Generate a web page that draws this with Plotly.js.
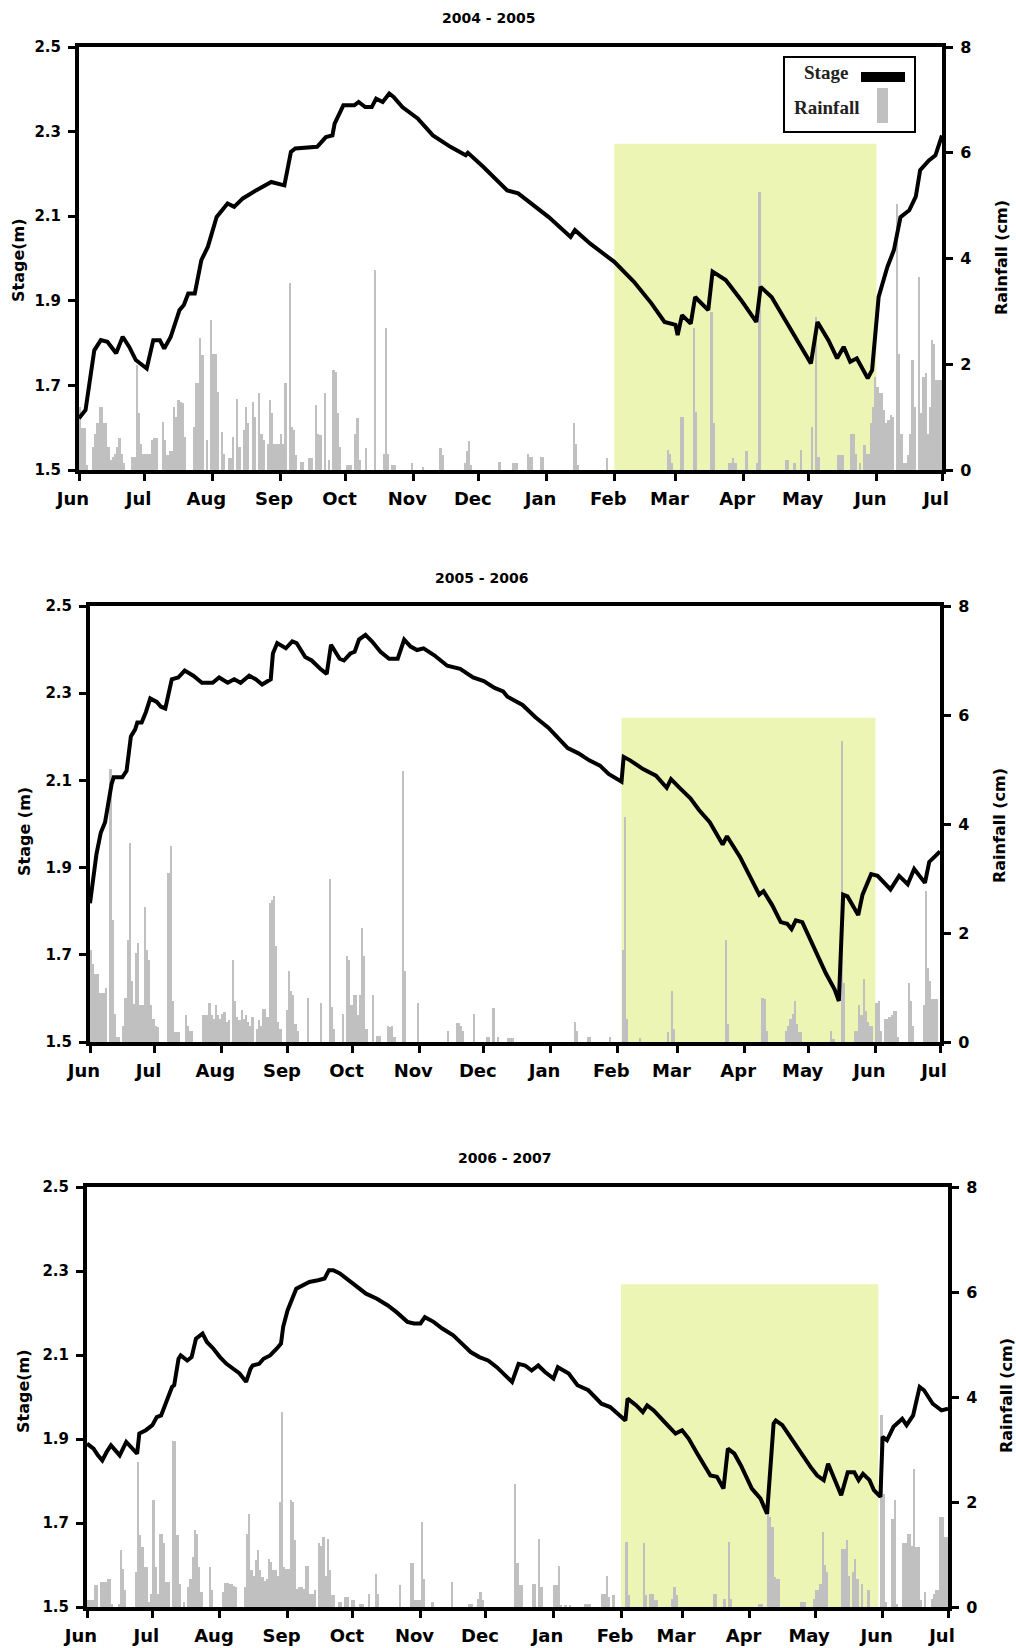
<!DOCTYPE html>
<html><head><meta charset="utf-8">
<script src="https://cdn.plot.ly/plotly-3.0.1.min.js"></script>
<style>html,body{margin:0;padding:0;background:#fff;}#chart{width:1016px;height:1648px;}</style>
</head><body><div id="chart"></div>
<script>
// ---------- DATA ----------
const periodTitles = ['2004 - 2005', '2005 - 2006', '2006 - 2007'];
const startDates = ['2004-06-01', '2005-06-01', '2006-06-01'];
const endDates = ['2005-07-01', '2006-07-01', '2007-07-01'];
const stageTitles = ['Stage(m)', 'Stage (m)', 'Stage(m)'];
const rainTitle = 'Rainfall (cm)';
const stageTicks = [1.5, 1.7, 1.9, 2.1, 2.3, 2.5];
const rainTicks = [0, 2, 4, 6, 8];
// shaded period (start, end, top in cm)
const shadeStart = ['2005-02-01', '2006-02-03', '2007-02-01'];
const shadeEnd = ['2005-06-01', '2006-06-01', '2007-05-30'];
const shadeTopCm = [6.17, 5.95, 6.15];

// Stage (m): day offset from start date, value
const stage1Day = [0,3,7,10,13,17,20,23,26,31,34,37,39,42,46,48,50,53,56,59,63,68,71,75,81,88,94,97,99,109,113,116,117,121,126,128,131,134,136,139,142,144,148,155,162,170,177,178,185,196,201,207,215,225,227,234,245,254,262,268,273,274,276,280,282,288,290,296,303,310,312,317,326,335,338,343,347,350,353,356,361,363,366,370,373,376,380,383,385,389,392,395];
const stage1M = [1.622,1.642,1.783,1.807,1.803,1.776,1.815,1.791,1.760,1.740,1.807,1.807,1.787,1.815,1.878,1.890,1.917,1.917,1.996,2.028,2.098,2.130,2.122,2.142,2.161,2.181,2.173,2.252,2.260,2.264,2.287,2.291,2.319,2.362,2.362,2.370,2.358,2.358,2.378,2.370,2.390,2.382,2.358,2.331,2.291,2.264,2.244,2.250,2.217,2.161,2.154,2.130,2.098,2.051,2.067,2.035,1.992,1.945,1.894,1.850,1.843,1.819,1.866,1.846,1.909,1.878,1.969,1.949,1.902,1.850,1.933,1.909,1.831,1.752,1.850,1.807,1.764,1.791,1.756,1.764,1.717,1.736,1.909,1.980,2.020,2.098,2.114,2.146,2.209,2.232,2.244,2.291];

const stage2Day = [0,2,3,5,7,10,11,15,17,19,21,22,24,26,28,31,33,35,38,41,44,48,52,57,60,64,67,70,74,77,80,84,85,87,91,94,96,100,103,107,110,112,114,116,118,121,123,125,128,131,135,139,143,146,149,152,155,160,166,172,178,183,188,192,194,201,207,213,222,227,232,237,241,247,248,251,257,263,268,270,274,279,283,288,294,296,302,306,311,313,317,321,324,326,328,331,336,342,346,348,350,352,357,359,363,366,372,376,380,383,388,390,395];
const stage2M = [1.818,1.899,1.931,1.980,2.004,2.091,2.107,2.107,2.122,2.201,2.217,2.233,2.233,2.257,2.288,2.280,2.269,2.265,2.332,2.336,2.352,2.340,2.324,2.324,2.336,2.324,2.332,2.324,2.340,2.332,2.320,2.332,2.391,2.415,2.403,2.419,2.415,2.383,2.375,2.356,2.344,2.411,2.395,2.379,2.375,2.391,2.395,2.423,2.434,2.419,2.395,2.379,2.379,2.423,2.407,2.399,2.403,2.387,2.363,2.356,2.336,2.328,2.312,2.304,2.292,2.273,2.245,2.221,2.174,2.162,2.146,2.134,2.115,2.097,2.154,2.146,2.126,2.111,2.083,2.103,2.083,2.059,2.032,2.004,1.953,1.972,1.925,1.885,1.838,1.846,1.814,1.775,1.771,1.759,1.779,1.775,1.720,1.657,1.621,1.594,1.838,1.834,1.791,1.838,1.885,1.881,1.850,1.881,1.862,1.897,1.865,1.913,1.937];

const stage3Day = [0,3,5,7,9,11,13,15,18,20,23,24,27,30,32,34,37,39,40,42,43,46,48,50,53,55,58,61,64,67,70,73,75,76,79,81,84,87,89,90,92,96,99,102,106,109,111,113,116,120,124,128,133,138,142,147,150,153,155,159,163,168,172,176,180,184,188,193,195,198,201,204,207,210,214,216,221,225,230,236,240,247,248,252,255,257,260,265,270,273,276,280,283,286,289,292,294,297,300,305,309,312,315,316,319,323,328,332,335,338,340,343,346,349,352,354,356,359,361,364,365,367,370,374,376,379,382,384,388,392,395];
const stage3M = [1.889,1.877,1.861,1.849,1.869,1.885,1.873,1.861,1.893,1.881,1.865,1.913,1.921,1.933,1.952,1.956,2.000,2.024,2.028,2.091,2.099,2.087,2.095,2.139,2.151,2.131,2.115,2.095,2.079,2.067,2.056,2.036,2.067,2.075,2.079,2.091,2.099,2.115,2.127,2.167,2.206,2.258,2.266,2.274,2.278,2.282,2.302,2.302,2.294,2.278,2.262,2.246,2.234,2.218,2.202,2.179,2.175,2.175,2.190,2.179,2.163,2.147,2.127,2.107,2.095,2.087,2.071,2.044,2.036,2.079,2.075,2.063,2.075,2.060,2.044,2.071,2.056,2.028,2.016,1.984,1.976,1.944,1.996,1.980,1.964,1.980,1.968,1.940,1.913,1.921,1.901,1.865,1.841,1.813,1.810,1.782,1.877,1.865,1.837,1.782,1.758,1.722,1.937,1.944,1.933,1.901,1.861,1.833,1.813,1.802,1.841,1.806,1.766,1.821,1.821,1.802,1.817,1.802,1.778,1.762,1.905,1.897,1.929,1.948,1.933,1.956,2.024,2.016,1.984,1.968,1.972];

// Daily rainfall (cm): day offset from start date, value (days not listed = 0)
const rain1Day = [0,1,2,3,6,7,8,9,10,11,12,13,14,15,16,17,18,19,20,24,25,26,27,28,29,30,31,32,33,34,35,38,39,40,41,42,43,44,45,46,47,48,52,53,54,55,56,58,60,61,62,63,65,66,68,69,70,72,73,75,76,77,79,80,82,83,84,86,87,88,89,90,91,92,93,94,96,97,98,99,101,102,105,106,108,109,110,112,114,116,117,118,119,122,123,124,126,127,128,131,135,139,140,141,143,144,152,157,165,166,176,177,178,179,192,198,199,200,205,206,207,211,212,226,227,228,241,269,270,271,275,276,281,282,289,290,297,298,299,300,305,310,311,323,324,327,330,335,337,338,347,348,349,353,354,355,357,359,360,361,362,363,364,365,366,367,368,369,370,371,372,374,375,376,377,378,379,380,381,382,384,385,386,387,388,389,390,391,392,393,394];
const rain1Cm = [1.2,0.8,0.8,0.1,0.44,0.69,0.88,1.2,1.2,0.88,0.88,0.44,0.19,0.25,0.31,0.44,0.6,0.31,0.13,0.25,0.25,1.98,1.07,0.5,0.31,0.31,0.31,0.3,0.57,0.6,0.6,0.91,0.57,0.28,0.35,0.35,1.2,1.0,1.32,1.29,1.26,0.63,0.82,1.64,1.64,2.49,2.17,0.57,2.83,2.2,2.2,1.48,0.72,0.3,0.22,0.22,0.63,1.35,0.44,0.76,1.2,0.88,1.29,1.0,1.45,0.69,0.57,0.5,1.32,1.07,0.5,0.5,0.5,0.69,0.5,1.64,3.53,0.82,0.76,0.28,0.16,0.16,0.22,0.22,1.23,0.69,0.66,1.45,0.19,1.89,1.86,1.07,0.44,0.1,0.1,0.1,0.69,0.98,0.19,0.41,3.78,0.31,2.68,0.31,0.1,0.1,0.13,0.06,0.41,0.28,0.13,0.35,0.54,0.1,0.16,0.13,0.13,0.13,0.31,0.25,0.25,0.25,0.25,0.88,0.5,0.1,0.22,0.38,0.3,0.13,1.0,1.0,2.68,1.1,2.99,0.88,0.13,0.13,0.22,0.13,0.35,0.13,5.26,0.19,0.19,0.13,0.38,0.82,2.9,0.25,0.28,0.28,0.28,0.69,0.69,0.31,0.13,0.47,0.31,0.31,0.88,1.2,1.76,1.57,1.45,1.45,1.13,0.88,0.95,1.04,1.0,5.04,2.2,0.69,0.13,0.13,0.28,0.69,2.08,1.2,3.65,1.07,1.76,1.83,0.69,1.2,2.46,2.39,1.7,1.7,1.7];

const rain2Day = [0,1,2,3,4,5,6,7,9,10,11,12,13,15,16,17,18,19,20,21,22,23,24,25,26,27,28,29,30,31,36,37,38,39,40,41,44,45,46,47,52,53,54,55,56,57,58,59,60,61,62,63,64,66,67,68,69,70,71,72,73,74,75,77,78,79,80,81,82,83,84,85,86,87,88,91,92,93,94,95,96,101,107,111,112,113,117,119,120,121,122,123,124,125,126,127,128,131,133,134,138,139,140,141,145,146,152,166,170,171,172,173,178,184,185,187,189,194,195,196,225,226,231,232,241,247,248,249,255,268,270,271,295,296,312,313,314,323,324,325,326,327,328,329,330,344,345,349,350,355,356,357,358,359,360,361,362,363,365,366,367,369,370,371,372,373,374,375,380,381,382,387,388,389,390,391,392,393];
const rain2Cm = [1.69,1.44,1.25,1.25,0.9,0.9,0.9,1.0,5.01,2.23,0.52,0.1,0.1,0.3,0.8,1.88,3.65,1.12,0.7,1.63,1.82,0.68,0.68,2.48,1.69,1.5,0.68,0.43,0.3,0.27,3.11,3.59,0.75,0.18,0.18,0.18,0.49,0.3,0.2,0.2,0.5,0.5,0.5,0.71,0.5,0.43,0.68,0.5,0.43,0.52,0.55,0.37,0.4,1.5,0.75,0.46,0.4,0.59,0.43,0.49,0.37,0.3,0.46,0.24,0.4,0.3,0.6,0.6,0.46,2.55,2.6,2.67,1.76,0.37,0.24,0.59,1.31,0.94,0.87,0.33,0.2,0.81,0.71,2.99,0.65,0.24,0.52,1.57,1.5,0.68,0.87,0.87,0.5,0.87,2.1,1.57,0.24,0.87,0.11,0.11,0.3,0.27,0.3,0.1,4.98,1.31,0.71,0.2,0.35,0.35,0.3,0.2,0.52,0.1,0.1,0.62,0.1,0.08,0.08,0.08,0.37,0.2,0.1,0.1,0.1,1.69,4.13,0.43,0.08,0.18,0.94,0.24,1.88,0.33,0.81,0.78,0.2,0.2,0.3,0.43,0.52,0.75,0.33,0.18,0.18,0.2,0.05,5.52,1.09,0.2,0.2,0.68,0.5,1.16,0.56,0.37,0.3,0.3,0.71,0.75,0.2,0.43,0.43,0.46,0.5,0.56,0.56,0.1,1.09,0.75,0.3,0.68,2.77,1.35,1.12,0.78,0.78,0.78];

const rain3Day = [0,1,2,3,4,6,7,8,9,10,11,14,15,16,17,22,23,24,25,26,27,28,29,30,31,32,33,34,35,36,37,39,40,41,42,44,46,47,48,49,50,51,52,56,57,62,63,64,65,66,67,68,72,73,74,75,76,77,78,79,80,81,82,83,84,85,86,87,88,89,90,91,92,93,94,95,96,97,98,99,100,101,102,103,104,106,107,108,109,110,111,112,113,115,116,118,119,121,122,125,126,129,132,133,143,148,149,150,151,152,153,154,158,167,175,176,179,180,181,196,197,198,199,204,205,207,208,214,215,216,217,219,221,228,229,230,236,237,238,239,241,247,248,255,256,258,259,260,261,268,269,270,287,288,292,294,295,308,309,312,313,314,315,316,317,327,328,329,333,334,335,336,337,338,339,346,347,348,349,351,352,353,355,358,364,365,366,369,370,371,374,375,376,377,378,379,380,381,382,384,387,388,389,390,391,392,393,394];
const rain3Cm = [0.13,0.13,0.13,0.41,0.41,0.48,0.48,0.48,0.54,0.54,0.05,0.05,1.08,0.73,0.32,0.67,2.76,1.37,1.14,0.76,0.76,0.1,0.25,2.03,0.76,0.25,1.4,1.4,1.21,0.48,0.48,3.17,3.17,1.37,0.44,0.1,0.38,0.54,0.95,1.46,1.4,0.76,0.29,0.76,0.32,0.29,0.45,0.45,0.44,0.44,0.4,0.38,0.38,1.4,1.78,0.7,0.6,0.89,1.08,0.7,0.57,0.5,0.54,0.92,0.86,0.7,0.7,0.6,2.0,3.71,0.76,0.73,0.73,2.03,2.0,1.27,0.35,0.38,0.38,0.35,0.79,0.79,0.25,0.25,0.32,1.21,1.17,1.33,0.6,1.3,0.7,0.22,0.22,0.1,0.1,0.19,0.19,0.13,0.13,0.06,0.06,0.25,0.63,0.25,0.41,0.83,0.83,0.13,0.13,0.13,1.62,0.54,0.1,0.48,0.06,0.06,0.16,0.29,0.13,2.35,0.83,0.41,0.41,0.44,0.44,1.3,0.38,0.41,0.41,0.79,0.03,0.03,0.03,0.06,0.06,0.06,0.25,0.25,0.6,0.19,0.22,1.24,0.22,1.21,0.22,0.25,0.25,0.13,0.13,0.16,0.38,0.22,0.25,0.25,0.16,1.24,0.16,0.06,0.06,1.78,1.71,1.52,0.57,0.54,0.54,0.1,0.1,0.1,0.16,0.32,0.32,0.44,1.43,0.8,0.67,1.11,1.11,1.27,0.6,0.67,0.92,0.54,0.44,0.32,3.65,2.16,0.1,1.68,2.03,0.05,1.21,1.21,1.4,1.4,1.17,2.63,1.14,1.14,0.13,0.29,0.16,0.25,0.32,0.32,1.71,1.71,1.33,1.33];

const legendLabels = ['Stage', 'Rainfall'];

// ---------- BUILD ----------
const W = 1016, H = 1648;
const px = v => v / W;
const py = v => 1 - v / H;
function dayToDate(start, d) {
  const t = Date.UTC(+start.slice(0,4), +start.slice(5,7) - 1, +start.slice(8,10)) + d * 864e5;
  return new Date(t).toISOString().replace('T', ' ').slice(0, 19);
}

// panel geometry in page pixels [left, right, top, bottom]
const boxes = [[79, 942, 47, 470], [90, 940, 606, 1042], [87, 948, 1187, 1607]];
const titlePos = [[489, 18], [482, 578], [505, 1158]];
const leftTitlePos = [[18, 260], [24, 832], [23, 1391]];
const rightTitlePos = [[1001, 258], [999, 826], [1006, 1396]];

const stageDays = [stage1Day, stage2Day, stage3Day];
const stageVals = [stage1M, stage2M, stage3M];
const rainDays = [rain1Day, rain2Day, rain3Day];
const rainVals = [rain1Cm, rain2Cm, rain3Cm];

const FONT = 'DejaVu Sans, Arial, sans-serif';
const traces = [];
const layout = {
  width: W, height: H, margin: {l: 0, r: 0, t: 0, b: 0},
  paper_bgcolor: '#fff', plot_bgcolor: 'rgba(0,0,0,0)',
  showlegend: false, bargap: 0, barmode: 'overlay',
  shapes: [], annotations: []
};

for (let i = 0; i < 3; i++) {
  const [L, R, T, B] = boxes[i];
  const xn = i === 0 ? '' : String(i + 1);
  const rainN = String(2 * i + 1), stN = String(2 * i + 2);
  const rainKey = rainN === '1' ? 'y' : 'y' + rainN;
  const stKey = 'y' + stN;
  const xKey = 'x' + xn;

  layout['xaxis' + xn] = {
    type: 'date', domain: [px(L), px(R)], anchor: rainKey,
    range: [startDates[i], endDates[i]],
    tickmode: 'linear', tick0: startDates[i], dtick: 'M1', tickformat: '%b',
    ticks: 'outside', ticklen: 7, tickwidth: 3, tickcolor: '#000',
    showline: true, linewidth: 4, linecolor: '#000', mirror: true,
    showgrid: false, zeroline: false, ticklabelshift: -6, ticklabelstandoff: 2,
    tickfont: {family: FONT, size: 18, weight: 'bold', color: '#000'}
  };
  layout['yaxis' + (rainN === '1' ? '' : rainN)] = {
    domain: [py(B), py(T)], anchor: xKey, side: 'right',
    range: [0, 8], tickmode: 'array', tickvals: rainTicks, ticktext: rainTicks.map(String),
    ticks: 'outside', ticklen: 7, tickwidth: 3, tickcolor: '#000',
    showline: true, linewidth: 4, linecolor: '#000',
    showgrid: false, zeroline: false, ticklabelstandoff: 4,
    tickfont: {family: FONT, size: 16, weight: 'bold', color: '#000'}
  };
  layout['yaxis' + stN] = {
    domain: [py(B), py(T)], anchor: xKey, side: 'left', overlaying: rainKey,
    range: [1.5, 2.5], tickmode: 'array', tickvals: stageTicks, ticktext: stageTicks.map(v => v.toFixed(1)),
    ticks: 'outside', ticklen: 7, tickwidth: 3, tickcolor: '#000',
    showline: true, linewidth: 4, linecolor: '#000',
    showgrid: false, zeroline: false, ticklabelstandoff: 4,
    tickfont: {family: FONT, size: 15, weight: 'bold', color: '#000'}
  };

  // shaded period
  layout.shapes.push({
    type: 'rect', xref: xKey, yref: rainKey, layer: 'below',
    x0: shadeStart[i], x1: shadeEnd[i], y0: 0, y1: shadeTopCm[i],
    fillcolor: '#EDF5B4', line: {width: 0}
  });

  traces.push({
    type: 'bar', xaxis: xKey, yaxis: rainKey,
    x: rainDays[i].map(d => dayToDate(startDates[i], d + 0.5)),
    y: rainVals[i], width: 864e5,
    marker: {color: '#C0C0C0', line: {width: 0}}, hoverinfo: 'skip'
  });
  traces.push({
    type: 'scatter', mode: 'lines', xaxis: xKey, yaxis: stKey,
    x: stageDays[i].map(d => dayToDate(startDates[i], d)),
    y: stageVals[i], line: {color: '#000', width: 4}, hoverinfo: 'skip'
  });

  layout.annotations.push({
    xref: 'paper', yref: 'paper', x: px(titlePos[i][0]), y: py(titlePos[i][1]),
    xanchor: 'center', yanchor: 'middle', showarrow: false, text: periodTitles[i],
    font: {family: FONT, size: 14, weight: 'bold', color: '#000'}
  });
  layout.annotations.push({
    xref: 'paper', yref: 'paper', x: px(leftTitlePos[i][0]), y: py(leftTitlePos[i][1]),
    xanchor: 'center', yanchor: 'middle', showarrow: false, textangle: -90, text: stageTitles[i],
    font: {family: FONT, size: 16, weight: 'bold', color: '#000'}
  });
  layout.annotations.push({
    xref: 'paper', yref: 'paper', x: px(rightTitlePos[i][0]), y: py(rightTitlePos[i][1]),
    xanchor: 'center', yanchor: 'middle', showarrow: false, textangle: -90, text: rainTitle,
    font: {family: FONT, size: 16, weight: 'bold', color: '#000'}
  });
}

// legend (first panel)
layout.shapes.push({type: 'rect', xref: 'paper', yref: 'paper', x0: px(784), x1: px(915), y0: py(132), y1: py(57),
  fillcolor: '#fff', line: {color: '#000', width: 2}});
layout.shapes.push({type: 'rect', xref: 'paper', yref: 'paper', x0: px(861), x1: px(905), y0: py(82), y1: py(72),
  fillcolor: '#000', line: {width: 0}});
layout.shapes.push({type: 'rect', xref: 'paper', yref: 'paper', x0: px(877), x1: px(888), y0: py(123), y1: py(88),
  fillcolor: '#C0C0C0', line: {width: 0}});
layout.annotations.push({xref: 'paper', yref: 'paper', x: px(826), y: py(73), xanchor: 'center', yanchor: 'middle',
  showarrow: false, text: legendLabels[0], font: {family: 'Liberation Serif, serif', size: 19, weight: 'bold', color: '#222'}});
layout.annotations.push({xref: 'paper', yref: 'paper', x: px(826), y: py(108), xanchor: 'center', yanchor: 'middle',
  showarrow: false, text: legendLabels[1], font: {family: 'Liberation Serif, serif', size: 19, weight: 'bold', color: '#222'}});

Plotly.newPlot('chart', traces, layout, {staticPlot: true, displayModeBar: false});
</script></body></html>
